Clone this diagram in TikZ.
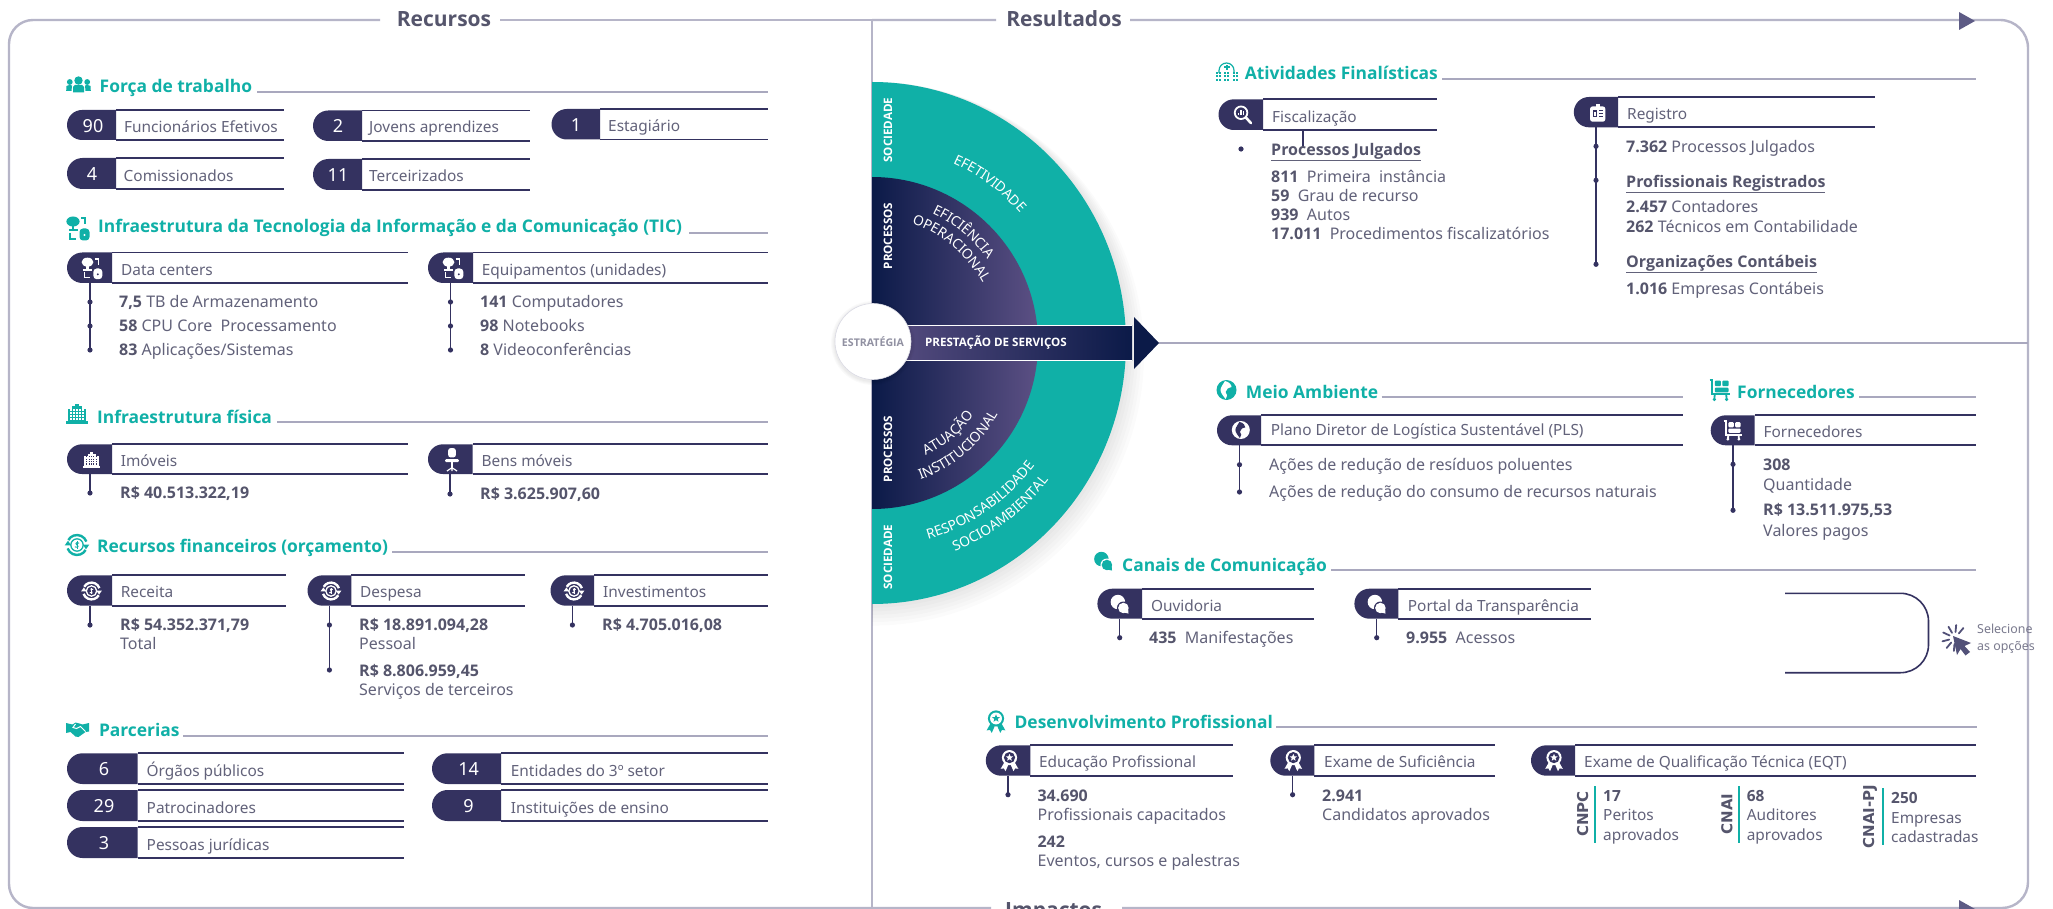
\documentclass[tikz,border=0pt]{standalone}
\usepackage{fontspec}
\setmainfont{Noto Sans}[BoldFont={Open Sans Bold}]
\newfontfamily\wideb{DejaVu Sans}
\usetikzlibrary{decorations.text}
\definecolor{tealc}{HTML}{10B0A7}
\definecolor{navyc}{HTML}{0B1A48}
\definecolor{purpc}{HTML}{5C5084}
\definecolor{pillc}{HTML}{343260}
\definecolor{panelc}{HTML}{B6B5C8}
\definecolor{headc}{HTML}{A9A8BE}
\definecolor{bodyc}{HTML}{62627A}
\definecolor{boldc}{HTML}{55556C}
\definecolor{arrowc}{HTML}{5D5B85}
\newcount\nid
\tikzset{
  x=1pt,y=1pt,
  bodytext/.style={font=\fontsize{16}{18}\selectfont,text=bodyc,anchor=base west,inner sep=0pt},
  labeltext/.style={font=\fontsize{15.4}{18}\selectfont,text=bodyc,anchor=base west,inner sep=0pt},
  headtext/.style={font=\fontsize{17.4}{20}\bfseries\selectfont,text=tealc,anchor=base west,inner sep=0pt},
  titletext/.style={font=\fontsize{21}{24}\bfseries\selectfont,text=boldc,anchor=center,inner sep=0pt},
  numtext/.style={font=\fontsize{18}{20}\selectfont,text=white,anchor=center,inner sep=0pt},
  pilline/.style={draw=pillc,line width=1.8pt},
  headline/.style={draw=headc,line width=1.8pt},
  panel/.style={draw=panelc,line width=2.4pt},
  stemstyle/.style={draw=pillc,line width=1.1pt},
  whitetext/.style={font=\fontsize{11.6}{13}\bfseries\selectfont,text=white,inner sep=0pt},
  vlabel/.style={font=\fontsize{15}{16}\wideb\bfseries\selectfont,text=boldc,inner sep=0pt,rotate=90},
}
\newcommand\tx[3]{\global\advance\nid by 1 \node[bodytext] (n\the\nid) at (#1,-#2-5.5) {#3};}
\newcommand\lb[3]{\global\advance\nid by 1 \node[labeltext] (n\the\nid) at (#1,-#2-5.5) {#3};}
\newcommand\bb[1]{\textcolor{boldc}{\textbf{#1}}}
\newcommand\headline[6]{% x y text linestart lineend liney
  \global\advance\nid by 1
  \node[headtext] (n\the\nid) at (#1,-#2-6) {#3};
  \draw[headline] (#4,-#6) -- (#5,-#6);}
\newcommand\pillbox[5]{%
  \pgfmathsetmacro\pr{(#5-#4)/2}
  \draw[pilline] (#2,-#4) -- (#3,-#4);
  \draw[pilline] (#2,-#5) -- (#3,-#5);
  \fill[pillc] (#2,-#4) -- ({#1+\pr},-#4) arc (90:270:\pr) -- (#2,-#5) -- cycle;}
\newcommand\numlabel[3]{\global\advance\nid by 1 \node[numtext] (n\the\nid) at (#1,-#2) {#3};}
\newcommand\stemline[4]{% x ytop ybot dots
  \global\advance\nid by 1
  \coordinate (s\the\nid a) at (#1,-#2);
  \coordinate (s\the\nid b) at (#1,-#3);
  \draw[stemstyle] (s\the\nid a) -- (s\the\nid b);
  \foreach \yy in {#4} {\fill[pillc] (#1,-\yy) circle (2.6);}}
\newcommand\ico[5]{\begin{scope}[shift={(#2,-#3)},scale=#5]\colorlet{fg}{#4}\csname ic#1\endcsname\end{scope}}
\newcommand\icpeople{%
  \fill[fg] (0,4.5) circle (4.2);
  \fill[fg] (-5.5,-7.5) -- (-5.5,-2) to[out=90,in=180] (0,0.3) to[out=0,in=90] (5.5,-2) -- (5.5,-7.5) -- cycle;
  \fill[fg] (-8.7,3) circle (2.9); \fill[fg] (8.7,3) circle (2.9);
  \fill[fg] (-12.3,-6) -- (-12,-1) -- (-9,0) -- (-6.5,-0.5) -- (-7,-6) -- cycle;
  \fill[fg] (12.3,-6) -- (12,-1) -- (9,0) -- (6.5,-0.5) -- (7,-6) -- cycle;}
\newcommand\ictic{%
  \fill[fg] (-5,6.5) ellipse (6.6 and 5);
  \fill[fg] (-6.3,2) rectangle (-3.7,-2);
  \fill[fg] (-9.5,-1.4) rectangle (-0.5,-3);
  \fill[fg,rounded corners=3.5] (1.5,-0.5) rectangle (11.5,-12.5);
  \fill[bg] (6.5,-7) circle (1.2);
  \draw[fg,line width=1.2pt] (3,10) -- (7,10) -- (7,3.5);
  \draw[fg,line width=1.2pt] (-8,-5) -- (-8,-11) -- (-2,-11);}
\newcommand\icbuilding{%
  \fill[fg] (-11,-10) rectangle (11,-7);
  \fill[fg] (-9,-7) rectangle (9,5);
  \fill[fg] (-5,5) rectangle (5,8);
  \fill[fg] (-2,8) rectangle (2,10.5);
  \foreach \u in {-6,-3,0,3,6} \foreach \v in {-5,-2,1,4} {\fill[bg] (\u-.7,\v-.7) rectangle (\u+.7,\v+.7);}}
\newcommand\icmoney{%
  \draw[fg,line width=2.4pt] (20:10.5) arc (20:150:10.5);
  \draw[fg,line width=2.4pt] (200:10.5) arc (200:330:10.5);
  \fill[fg] (9.5,-4.5) -- (13,0.5) -- (6,0.5) -- cycle;
  \fill[fg] (-9.5,4.5) -- (-13,-0.5) -- (-6,-0.5) -- cycle;
  \draw[fg,line width=1.3pt] (0,0) circle (6.5);
  \draw[fg,line width=1pt] (2.2,2) .. controls (0.5,3.6) and (-2.8,2) .. (0,0) .. controls (2.8,-2) and (-0.5,-3.6) .. (-2.2,-2);
  \draw[fg,line width=.7pt] (0,-4.2) -- (0,4.2);}
\newcommand\ichand{%
  \fill[fg] (-11.5,7) -- (-5,5.5) -- (-2,7.5) -- (2,6.5) -- (5,5.5) -- (11.5,7) -- (11.5,-1.5) -- (8,-2) -- (1,-7) -- (-2,-6.5) -- (-7,-2) -- (-11.5,-3) -- cycle;
  \draw[white,line width=1pt] (-2,6) -- (-4.5,2.5) -- (-1,1.5) -- (3,3.5) -- (8,-1.5);}
\newcommand\icsearch{%
  \draw[fg,line width=1.8pt] (-1.5,2.5) circle (7);
  \draw[fg,line width=2.6pt,line cap=round] (4,-3) -- (9.5,-9);
  \fill[fg] (-5,0) rectangle (-3.6,2.5);
  \fill[fg] (-2.2,0) rectangle (-0.8,6);
  \fill[fg] (0.6,0) rectangle (2,4);}
\newcommand\icid{%
  \fill[fg,rounded corners=2.5] (-8.5,-10) rectangle (8.5,7);
  \fill[fg] (-2,6) rectangle (2,10);
  \fill[bg] (-5.5,-5) rectangle (-0.8,2.5);
  \fill[fg] (-4,-3.5) rectangle (-2.2,1);
  \fill[bg] (1,1.5) rectangle (5.5,2.7);
  \fill[bg] (1,-1.5) rectangle (5.5,-0.3);
  \fill[bg] (1,-4.5) rectangle (5.5,-3.3);}
\newcommand\icglobe{%
  \fill[fg] (0,0) circle (10);
  \fill[bg] (-1.5,9) .. controls (3,8) and (5,5) .. (5,3) .. controls (2,3) and (0,1) .. (-1,-2) .. controls (1,-4) and (1,-6) .. (-1,-9) .. controls (-3,-6) and (-6,-3) .. (-6,0) .. controls (-6,3) and (-3,6) .. (-1.5,9) -- cycle;}
\newcommand\iccart{%
  \draw[fg,line width=2pt] (-11,11) -- (-8,11) -- (-8,-4.5) -- (10,-4.5);
  \fill[fg,rounded corners=1] (-5.5,10) rectangle (1,4);
  \fill[fg,rounded corners=1] (2.5,10) rectangle (9,4);
  \fill[fg,rounded corners=1] (-5.5,2.5) rectangle (9,-2.5);
  \draw[fg,line width=1.8pt] (-5.5,-4.5) -- (-6,-10) (6.5,-4.5) -- (7,-10);
  \fill[fg] (-6,-10) circle (1.8); \fill[fg] (7,-10) circle (1.8);}
\newcommand\icchat{%
  \fill[fg] (-2.5,3.5) circle (8.5);
  \fill[bg] (4,-3.5) circle (7.6);
  \fill[fg] (4,-3.5) circle (6.2);
  \fill[fg] (10,-10) -- (9.5,-4) -- (5,-9) -- cycle;}
\newcommand\icmedal{%
  \fill[fg] (-6.5,-3) -- (-11,-11) -- (-7,-10.5) -- (-5,-14) -- (-1.5,-6) -- cycle;
  \fill[fg] (6.5,-3) -- (11,-11) -- (7,-10.5) -- (5,-14) -- (1.5,-6) -- cycle;
  \fill[fg] (0,3) circle (9.5);
  \fill[bg] (0,3) circle (7);
  \fill[fg] (0,7.8) -- (1.3,4.7) -- (4.6,4.5) -- (2,2.4) -- (2.9,-0.9) -- (0,1) -- (-2.9,-0.9) -- (-2,2.4) -- (-4.6,4.5) -- (-1.3,4.7) -- cycle;}
\newcommand\icsitemap{%
  \draw[fg,line width=1.2pt] (-7.5,-1) -- (-7.5,1.5) arc (180:0:7.5) -- (7.5,-1);
  \fill[fg] (-1,1.5) rectangle (1,7);
  \fill[fg] (-3,3.5) rectangle (3,5.5);
  \foreach \u in {-10,-7,-1.5,1.5,7,10} \foreach \v in {-1,-4,-8} {\fill[fg] (\u-1,\v-1) rectangle (\u+1,\v+1);}}
\newcommand\icchair{%
  \fill[fg,rounded corners=2.5] (-4.5,3) rectangle (4.5,14);
  \fill[fg,rounded corners=1] (-8,-2.5) rectangle (8,1);
  \draw[fg,line width=1.5pt] (0,-2) -- (0,-9);
  \draw[fg,line width=1.2pt] (-6,-13) -- (0,-9) -- (6,-13) (0,-9) -- (0,-13);}
\newcommand\icclick{%
  \fill[fg] (-2,2) -- (16,-5) -- (9.5,-8) -- (15,-14) -- (10.5,-17.5) -- (5.5,-11) -- (2,-17) -- cycle;
  \foreach \a in {50,85,120,155,195,230,265} {\draw[fg,line width=1.8pt,line cap=round] (\a:6) ++(0,0) -- (\a:13);}}
\newcommand\arctext[4]{%
  \path[decorate,decoration={text along path,text align=center,text={|\fontsize{13.8}{15}\selectfont\color{white}|#4}}]
    (872,-343) ++(#2:#1) arc (#2:#3:#1);}
\begin{document}
\begin{tikzpicture}
\useasboundingbox (0,0) rectangle (2053,-909);
\fill[white] (0,0) rectangle (2053,-909);
\colorlet{bg}{white}
% panels
\coordinate (gapa) at (380,-20); \coordinate (gapb) at (500,-20);
\draw[panel] (gapa) -- (33,-20) arc (90:180:24) -- (9,-884) arc (180:270:24) -- (872,-908);
\draw[panel] (gapb) -- (872,-20);
\draw[panel] (872,-20) -- (872,-908);
\draw[panel] (872,-20) -- (996,-20) (1130,-20) -- (2000,-20) arc (90:0:28) -- (2028,-882) arc (0:-90:26) -- (2002,-908) -- (1122,-908) (991,-908) -- (872,-908);
\fill[arrowc] (1959,-12) -- (1975,-21) -- (1959,-30) -- cycle;
\fill[arrowc] (1959,-900) -- (1975,-909) -- (1959,-918) -- cycle;
\node[titletext] (ttRec) at (444,-19) {Recursos};
\node[titletext] (ttRes) at (1064,-19) {Resultados};
\node[titletext,anchor=base west] (ttImp) at (1005,-917) {Impactos};
% semicircle shadow
\foreach \k in {3,6,9,12,15,18} {\fill[black,opacity=.016] (872,-82) arc[start angle=90,end angle=-90,x radius={254+\k},y radius={261+\k*.6}] -- cycle;}
\fill[tealc] (872,-82) arc[start angle=90,end angle=-90,x radius=254,y radius=261] -- cycle;
\shade[left color=navyc,right color=purpc] (872,-177) arc (90:-90:166) -- cycle;
\coordinate (tip) at (1159,-343);
\coordinate (rightedge) at (2028,-343);
\draw[headc,line width=1.3pt] (tip) -- (rightedge);
\shade[left color=purpc,right color=navyc] (872,-325.5) rectangle (1132,-360.5);
\draw[white,line width=.8pt] (872,-325.5) -- (1132,-325.5) (872,-360.5) -- (1132,-360.5);
\fill[navyc] (1134,-317) -- (tip) -- (1134,-369) -- cycle;
\foreach \k in {4,3,2,1} {\fill[black,opacity=.02] (873,-343) circle (38+\k);}
\node[circle,fill=white,draw=panelc!50,line width=.6pt,minimum size=76pt,inner sep=0pt,font=\fontsize{10.6}{12}\selectfont,text=bodyc!70] (estr) at (873,-341.5) {\textbf{ESTRATÉGIA}};
\node[whitetext] (prest) at (996,-343) {PRESTAÇÃO DE SERVIÇOS};
\node[whitetext,rotate=90] (soc1) at (888,-130) {SOCIEDADE};
\node[whitetext,rotate=90] (pro1) at (888,-236) {PROCESSOS};
\node[whitetext,rotate=90] (pro2) at (888,-449) {PROCESSOS};
\node[whitetext,rotate=90] (soc2) at (888,-557) {SOCIEDADE};
\arctext{197}{80}{27}{EFETIVIDADE}
\arctext{143}{85}{16}{EFICIÊNCIA}
\arctext{126}{90}{10}{OPERACIONAL}
\arctext{125}{-90}{-10}{ATUAÇÃO}
\arctext{145}{-90}{-10}{INSTITUCIONAL}
\arctext{204}{-85}{-26}{RESPONSABILIDADE}
\arctext{224}{-82}{-24}{SOCIOAMBIENTAL}
% --- Forca de trabalho
\ico{people}{78.5}{85}{tealc}{1}
\headline{99.5}{87}{Força de trabalho}{257}{768}{92}
\pillbox{67}{116}{284}{110}{140}\numlabel{93}{126}{90}\lb{124}{126.7}{Funcionários Efetivos}
\pillbox{313}{362}{530}{110.5}{141}\numlabel{338}{126}{2}\lb{369}{127}{Jovens aprendizes}
\pillbox{551.5}{600}{768}{109}{139.5}\numlabel{576}{125}{1}\lb{608}{125.7}{Estagiário}
\pillbox{67}{116}{284}{158}{189}\numlabel{92}{174}{4}\lb{123.5}{175.7}{Comissionados}
\pillbox{313}{362}{530}{159}{190}\numlabel{338}{175}{11}\lb{369}{176}{Terceirizados}
% --- TIC
\ico{tic}{78}{228}{tealc}{1}
\headline{98}{227}{Infraestrutura da Tecnologia da Informação e da Comunicação (TIC)}{689}{768}{232.7}
\pillbox{67}{112}{408}{252.5}{283}\lb{121}{270}{Data centers}
\pillbox{428}{473}{768}{252.5}{283}\lb{481.6}{270}{Equipamentos (unidades)}
\begin{scope}\colorlet{bg}{pillc}
\ico{tic}{92}{268}{white}{.9}\ico{tic}{453}{268}{white}{.9}
\end{scope}
\stemline{90}{283}{350}{302,326,350}
\tx{119}{302}{\bb{7,5} TB de Armazenamento}
\tx{119}{326}{\bb{58} CPU Core\ \ Processamento}
\tx{119}{350}{\bb{83} Aplicações/Sistemas}
\stemline{450.5}{283}{350}{302,326,350}
\tx{480}{302}{\bb{141} Computadores}
\tx{480}{326}{\bb{98} Notebooks}
\tx{480}{350}{\bb{8} Videoconferências}
% --- Infra fisica
\ico{building}{77}{414}{tealc}{1}
\headline{97}{417}{Infraestrutura física}{277}{768}{421.7}
\pillbox{67}{112}{408}{444.3}{474}\lb{120.6}{460.7}{Imóveis}
\pillbox{428}{472.5}{768}{444.3}{474}\lb{481.5}{460.7}{Bens móveis}
\begin{scope}\colorlet{bg}{pillc}
\ico{building}{91.5}{460}{white}{.8}\ico{chair}{452}{460}{white}{.85}
\end{scope}
\stemline{90}{474}{493}{493}\tx{120}{493}{\bb{R\$ 40.513.322,19}}
\stemline{450}{474}{494}{494}\tx{480}{494}{\bb{R\$ 3.625.907,60}}
% --- Financeiros
\ico{money}{77}{545}{tealc}{.95}
\headline{97}{546}{Recursos financeiros (orçamento)}{392}{768}{551.7}
\pillbox{67}{112}{286}{575.3}{605.7}\lb{120.6}{591.7}{Receita}
\pillbox{307.5}{351.3}{525}{575.3}{605.7}\lb{360}{591.7}{Despesa}
\pillbox{550.5}{594}{768}{575.3}{605.7}\lb{603}{591.7}{Investimentos}
\begin{scope}\colorlet{bg}{pillc}
\ico{money}{91.5}{591}{white}{.8}\ico{money}{331}{591}{white}{.8}\ico{money}{574}{591}{white}{.8}
\end{scope}
\stemline{90}{605.7}{625}{625}\tx{120}{625}{\bb{R\$ 54.352.371,79}}\tx{120}{644.3}{Total}
\stemline{329.4}{605.7}{670}{625,670}\tx{359}{625}{\bb{R\$ 18.891.094,28}}\tx{359}{644.3}{Pessoal}
\tx{359}{671}{\bb{R\$ 8.806.959,45}}\tx{359}{690}{Serviços de terceiros}
\stemline{572.4}{605.7}{625}{625}\tx{602}{625}{\bb{R\$ 4.705.016,08}}
% --- Parcerias
\ico{hand}{77.5}{730}{tealc}{1}
\headline{98.8}{730}{Parcerias}{183}{768}{735.7}
\pillbox{67}{137.5}{404}{753.3}{784}\numlabel{104}{769}{6}\lb{146.5}{770.7}{Órgãos públicos}
\pillbox{67}{137.5}{404}{790}{821}\numlabel{104}{806}{29}\lb{146.5}{807.7}{Patrocinadores}
\pillbox{67}{137.5}{404}{827}{858}\numlabel{104}{843}{3}\lb{146.5}{844.7}{Pessoas jurídicas}
\pillbox{432}{501}{768}{753.3}{784}\numlabel{468.6}{769}{14}\lb{510.7}{770.7}{Entidades do 3º setor}
\pillbox{432}{501}{768}{790}{821}\numlabel{468.6}{806}{9}\lb{510.7}{807.7}{Instituições de ensino}
% --- Atividades
\ico{sitemap}{1226.5}{72}{tealc}{1}
\headline{1244.6}{73.7}{Atividades Finalísticas}{1442}{1976}{79}
\pillbox{1218.5}{1263}{1436.7}{99.3}{130}\lb{1272}{116.7}{Fiscalização}
\pillbox{1573.8}{1618}{1875}{97}{127.3}\lb{1627}{113.7}{Registro}
\begin{scope}\colorlet{bg}{pillc}
\ico{search}{1242.4}{115}{white}{.9}\ico{id}{1597.7}{112.7}{white}{.9}
\end{scope}
\coordinate (fs1) at (1303,-130); \coordinate (fs2) at (1303,-147);
\draw[stemstyle] (fs1) -- (fs2);
\fill[pillc] (1241,-149) circle (2.6);
\tx{1271}{149.7}{\underline{\bb{Processos Julgados}}}
\tx{1271}{176.7}{\bb{811}\ \ Primeira\ \ instância}
\tx{1271}{195.7}{\bb{59}\ \ Grau de recurso}
\tx{1271}{214.7}{\bb{939}\ \ Autos}
\tx{1271}{233.7}{\bb{17.011}\ \ Procedimentos fiscalizatórios}
\stemline{1596}{127.3}{264.3}{146.3,180.3,264.3}
\tx{1626}{146.7}{\bb{7.362} Processos Julgados}
\tx{1626}{181.7}{\underline{\bb{Profissionais Registrados}}}
\tx{1626}{207.3}{\bb{2.457} Contadores}
\tx{1626}{227.3}{\bb{262} Técnicos em Contabilidade}
\tx{1626}{261.7}{\underline{\bb{Organizações Contábeis}}}
\tx{1626}{288.7}{\bb{1.016} Empresas Contábeis}
% --- Meio ambiente
\ico{globe}{1226.5}{390}{tealc}{1}
\headline{1245.7}{392}{Meio Ambiente}{1381.7}{1682.7}{396.7}
\pillbox{1217}{1261}{1682.7}{415.3}{445.3}\lb{1270.6}{429.7}{Plano Diretor de Logística Sustentável (PLS)}
\stemline{1239.5}{445.3}{492}{464.7,492}
\tx{1269}{464.7}{Ações de redução de resíduos poluentes}
\tx{1269}{491.7}{Ações de redução do consumo de recursos naturais}
% --- Fornecedores
\ico{cart}{1720}{390}{tealc}{.95}
\headline{1737}{392}{Fornecedores}{1859}{1976}{396.7}
\pillbox{1710.7}{1754.7}{1976}{415.3}{445.3}\lb{1763.4}{431.7}{Fornecedores}
\begin{scope}\colorlet{bg}{pillc}
\ico{globe}{1240.8}{430}{white}{.9}\ico{cart}{1733}{430.7}{white}{.85}
\end{scope}
\stemline{1733}{445.3}{510.3}{464.3,510.3}
\tx{1763}{464.7}{\bb{308}}\tx{1763}{484.7}{Quantidade}
\tx{1763}{510.3}{\bb{R\$ 13.511.975,53}}\tx{1763}{530.7}{Valores pagos}
% --- Canais
\ico{chat}{1103.5}{562}{tealc}{.85}
\headline{1122}{565}{Canais de Comunicação}{1331}{1976}{570}
\pillbox{1097.4}{1142}{1314}{588.7}{618.7}\lb{1150.8}{605.7}{Ouvidoria}
\pillbox{1354.4}{1398.4}{1590.9}{588.7}{618.7}\lb{1407.7}{605.7}{Portal da Transparência}
\begin{scope}\colorlet{bg}{pillc}
\ico{chat}{1120}{605}{white}{.85}\ico{chat}{1377}{605}{white}{.85}
\end{scope}
\stemline{1119.7}{618.7}{637.7}{637.7}\tx{1149}{638.3}{\bb{435}\ \ Manifestações}
\stemline{1376.7}{618.7}{637.7}{637.7}\tx{1406}{638.3}{\bb{9.955}\ \ Acessos}
\draw[pillc,line width=1.6pt,rounded corners=28] (1785,-593.3) -- (1928.5,-593.3) -- (1928.5,-672.7) -- (1785,-672.7);
\ico{click}{1955}{638}{pillc!85}{1}
\node[bodytext,font=\fontsize{12.4}{14}\selectfont,text=bodyc!85] (sel1) at (1977,-633.5) {Selecione};
\node[bodytext,font=\fontsize{12.4}{14}\selectfont,text=bodyc!85] (sel2) at (1977,-650) {as opções};
% --- Desenvolvimento
\ico{medal}{996}{721}{tealc}{.85}
\headline{1014.4}{722.3}{Desenvolvimento Profissional}{1276}{1976.7}{726.7}
\pillbox{985.8}{1030.4}{1233.4}{745.3}{775.7}\lb{1038.8}{761.7}{Educação Profissional}
\pillbox{1270.3}{1314.3}{1494.9}{745.3}{775.7}\lb{1324}{761.7}{Exame de Suficiência}
\pillbox{1531}{1575}{1976}{745.3}{775.7}\lb{1584}{761.7}{Exame de Qualificação Técnica (EQT)}
\begin{scope}\colorlet{bg}{pillc}
\ico{medal}{1009.5}{760}{white}{.8}\ico{medal}{1293.3}{760}{white}{.8}\ico{medal}{1554}{760}{white}{.8}
\end{scope}
\stemline{1008}{775.7}{794.7}{794.7}
\tx{1037.4}{795.7}{\bb{34.690}}\tx{1037.4}{815}{Profissionais capacitados}
\tx{1037.4}{841.7}{\bb{242}}\tx{1037.4}{861}{Eventos, cursos e palestras}
\stemline{1292.6}{775.7}{794.7}{794.7}
\tx{1322}{795.7}{\bb{2.941}}\tx{1322}{815}{Candidatos aprovados}
\draw[tealc,line width=1.8pt] (1595.3,-786) -- (1595.3,-842.7);
\node[vlabel] (cnpc) at (1582.7,-814) {CNPC};
\lb{1603}{795.7}{\bb{17}}\lb{1603}{815}{Peritos}\lb{1603}{835}{aprovados}
\draw[tealc,line width=1.8pt] (1739,-786) -- (1739,-842.7);
\node[vlabel] (cnai) at (1727,-814) {CNAI};
\lb{1746.6}{795.7}{\bb{68}}\lb{1746.6}{815}{Auditores}\lb{1746.6}{835}{aprovados}
\draw[tealc,line width=1.8pt] (1882.6,-788) -- (1882.6,-845);
\node[vlabel] (cnaipj) at (1870,-816.7) {CNAI-PJ};
\lb{1891}{798.3}{\bb{250}}\lb{1891}{818}{Empresas}\lb{1891}{837}{cadastradas}
\end{tikzpicture}
\end{document}
